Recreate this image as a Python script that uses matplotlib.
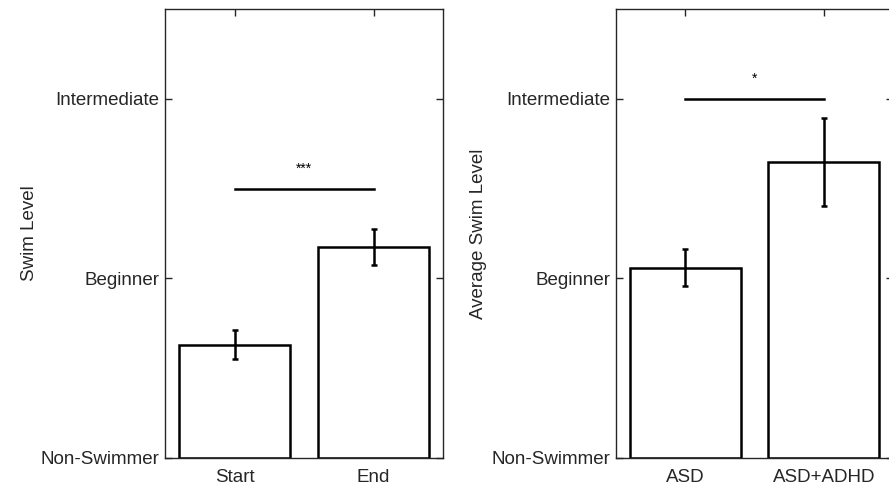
import numpy as np
import matplotlib
matplotlib.use('Agg')
from matplotlib import pyplot as plt

plt.rcParams['font.family'] = ['Liberation Sans', 'DejaVu Sans']

# data
level_names = ['Non-Swimmer', 'Beginner', 'Intermediate']
time_labels = ['Start', 'End']
time_means = [0.63, 1.175]
time_err = [0.08, 0.10]
group_labels = ['ASD', 'ASD+ADHD']
group_means = [1.06, 1.65]
group_err = [0.105, 0.245]
sig_left = ('***', 1.50)
sig_right = ('*', 2.00)

W, H = 889, 487
fig = plt.figure(figsize=(W / 100, H / 100), dpi=100)
ax1 = fig.add_axes([165 / W, 29 / H, 278 / W, 449 / H])
ax2 = fig.add_axes([616 / W, 29 / H, 277 / W, 449 / H])

spine_col = '#262626'


def draw(ax, labels, means, errs, sig, ylabel, lpad):
    x = np.arange(1, len(labels) + 1)
    ax.bar(x, means, width=0.8, color='white', edgecolor='black', linewidth=1.8, zorder=2)
    ax.errorbar(x, means, yerr=errs, fmt='none', ecolor='black', elinewidth=1.8,
                capsize=2.5, capthick=1.8, zorder=3)
    ax.plot([x[0], x[-1]], [sig[1], sig[1]], color='black', linewidth=1.8)
    ax.text(x.mean(), sig[1] + 0.07, sig[0], ha='center', va='bottom', fontsize=10)
    ax.set_xlim(0.5, len(labels) + 0.5)
    ax.set_ylim(0, 2.5)
    ax.set_xticks(x)
    ax.set_xticklabels(labels)
    ax.set_yticks([0, 1, 2])
    ax.set_yticklabels(level_names)
    ax.set_ylabel(ylabel, fontsize=13.5, color=spine_col, labelpad=lpad)
    ax.tick_params(direction='in', length=5, width=1, colors=spine_col,
                   labelsize=13.5, labelcolor=spine_col, top=True, right=True, pad=4)
    ax.tick_params(axis='x', pad=8)
    for s in ax.spines.values():
        s.set_color(spine_col)
        s.set_linewidth(1)


draw(ax1, time_labels, time_means, time_err, sig_left, 'Swim Level', 2)
draw(ax2, group_labels, group_means, group_err, sig_right, 'Average Swim Level', 3)

fig.savefig('out.png', dpi=100)
